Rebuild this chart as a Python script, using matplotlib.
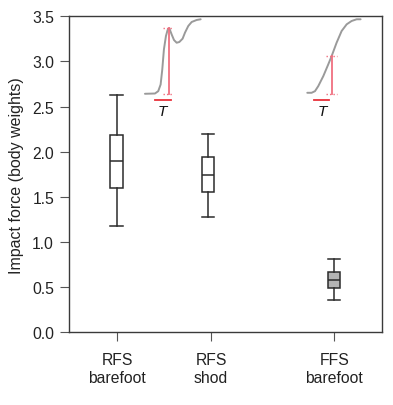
import matplotlib
matplotlib.use("Agg")
import matplotlib.pyplot as plt

plt.rcParams['font.family'] = ['Liberation Sans', 'DejaVu Sans']

# ---- data ----
categories = ["RFS\nbarefoot", "RFS\nshod", "FFS\nbarefoot"]
positions = [1.0, 2.0, 3.375]
tick_positions = [1.007, 2.03, 3.375]
# box stats: whisker low, q1, median, q3, whisker high
whislo = [1.17, 1.28, 0.35]
q1 = [1.60, 1.556, 0.486]
med = [1.90, 1.74, 0.578]
q3 = [2.185, 1.94, 0.66]
whishi = [2.63, 2.20, 0.81]
box_fill = ["white", "white", "#b3b3b3"]

yticks = [0.0, 0.5, 1.0, 1.5, 2.0, 2.5, 3.0, 3.5]

# illustrative force traces (data units)
rfs_trace_x = [1.309, 1.418, 1.454, 1.480, 1.498, 1.516, 1.538, 1.556, 1.575, 1.600,
               1.626, 1.655, 1.684, 1.720, 1.746, 1.782, 1.819, 1.873, 1.917]
rfs_trace_y = [2.641, 2.644, 2.670, 2.744, 2.911, 3.133, 3.281, 3.348, 3.367, 3.300,
               3.237, 3.207, 3.215, 3.252, 3.319, 3.393, 3.437, 3.459, 3.467]
ffs_trace_x = [3.081, 3.128, 3.165, 3.201, 3.256, 3.310, 3.347, 3.401, 3.456, 3.511,
               3.565, 3.620, 3.663]
ffs_trace_y = [2.652, 2.652, 2.670, 2.726, 2.837, 2.967, 3.059, 3.207, 3.337, 3.411,
               3.448, 3.467, 3.467]
# impact markers: x of vertical, y bottom, y top, dotted span, T-line span, label x
rfs_imp = dict(x=1.575, y0=2.644, y1=3.367, dx=(1.505, 1.611), tx=(1.418, 1.590), lx=1.493)
ffs_imp = dict(x=3.347, y0=2.644, y1=3.059, dx=(3.284, 3.408), tx=(3.154, 3.321), lx=3.241)
t_line_y = 2.567
t_label_y = 2.445

# ---- figure ----
fig = plt.figure(figsize=(3.93, 4.06), dpi=100)
ax = fig.add_axes([69.3/393, 1-333/406, (382.3-69.3)/393, (333-17.3)/406])

stats = []
for i in range(3):
    stats.append(dict(whislo=whislo[i], q1=q1[i], med=med[i], q3=q3[i], whishi=whishi[i], fliers=[]))
edge = "#2b2b2b"
bp = ax.bxp(stats, positions=positions, widths=0.135, patch_artist=True,
            showfliers=False, manage_ticks=False,
            boxprops=dict(edgecolor=edge, linewidth=1.1),
            medianprops=dict(color=edge, linewidth=1.1),
            whiskerprops=dict(color=edge, linewidth=1.1),
            capprops=dict(color=edge, linewidth=1.1), capwidths=0.135)
for patch, c in zip(bp['boxes'], box_fill):
    patch.set_facecolor(c)

gray = "#9a9a9a"
red = "#f07080"
red2 = "#e8303a"
for tx, ty, imp in [(rfs_trace_x, rfs_trace_y, rfs_imp), (ffs_trace_x, ffs_trace_y, ffs_imp)]:
    ax.plot(tx, ty, color=gray, lw=1.4, solid_capstyle='round', zorder=3)
    ax.plot([imp['x'], imp['x']], [imp['y0'], imp['y1']], color=red, lw=1.3, zorder=4)
    for yy in (imp['y0'], imp['y1']):
        ax.plot(list(imp['dx']), [yy, yy], color=red, lw=1.0, ls=(0, (1, 1.5)), zorder=4)
    ax.plot(list(imp['tx']), [t_line_y, t_line_y], color=red2, lw=1.3, zorder=4)
    ax.text(imp['lx'], t_label_y, "T", style='italic', fontsize=11, ha='center', va='center',
            color='#111111')

ax.set_xlim(0.483, 3.900)
ax.set_ylim(0, 3.5)
ax.set_yticks(yticks)
ax.set_yticklabels([f"{v:.1f}" for v in yticks])
ax.set_xticks(tick_positions)
ax.set_xticklabels(categories, linespacing=1.28)
ax.set_ylabel("Impact force (body weights)", fontsize=11.5, color='#222222', labelpad=6)

for s in ax.spines.values():
    s.set_color('#3a3a3a')
    s.set_linewidth(1.0)
ax.tick_params(axis='both', length=6.5, width=0.8, color='#555555', labelsize=11.3,
               labelcolor='#222222')
ax.tick_params(axis='y', pad=4.5)
ax.tick_params(axis='x', pad=8)

fig.savefig("out.png", dpi=100)
